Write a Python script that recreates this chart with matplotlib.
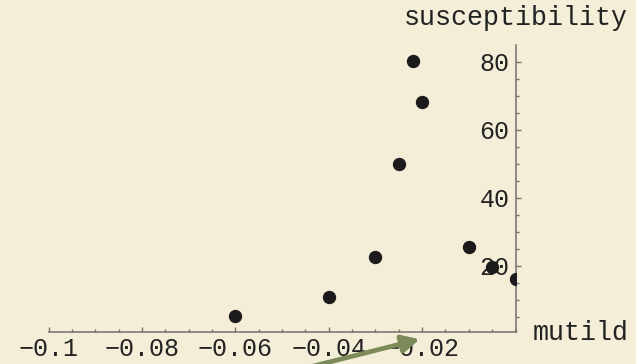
import numpy as np
import matplotlib
matplotlib.use('Agg')
import matplotlib.pyplot as plt
from matplotlib.ticker import MultipleLocator, FixedLocator

# susceptibility vs. mutild
mutild = [-0.06, -0.04, -0.03, -0.025, -0.022, -0.02, -0.01, -0.005, 0.0]
chi = [5.4, 10.9, 22.7, 50.0, 80.2, 68.3, 25.7, 19.8, 16.1]

xticks = [-0.1, -0.08, -0.06, -0.04, -0.02]
xticklabels = ['-0.1', '-0.08', '-0.06', '-0.04', '-0.02']
yticks = [20, 40, 60, 80]

bg = '#f4edd8'
axis_col = '#75716a'
arrow_col = '#7b8a58'

plt.rcParams['font.family'] = ['Liberation Mono', 'DejaVu Sans Mono']
plt.rcParams['axes.unicode_minus'] = True

fig = plt.figure(figsize=(6.36, 3.64), dpi=100, facecolor=bg)
ax = fig.add_axes([0.0763, 0.0871, 0.7343, 0.7893])
ax.set_facecolor(bg)

ax.plot(mutild, chi, 'o', color='#1c1a1a', markersize=8.6, zorder=3)

ax.set_xlim(-0.1, 0)
ax.set_ylim(0.53, 84.9)

for s in ['top', 'right']:
    ax.spines[s].set_visible(False)
ax.spines['left'].set_position(('axes', 1.0))
for s in ['left', 'bottom']:
    ax.spines[s].set_color(axis_col)
    ax.spines[s].set_linewidth(1.1)

ax.xaxis.set_major_locator(FixedLocator(xticks))
ax.set_xticklabels([t.replace('-', '\u2212') for t in xticklabels])
ax.xaxis.set_minor_locator(MultipleLocator(0.005))
ax.yaxis.set_major_locator(FixedLocator(yticks))
ax.yaxis.set_minor_locator(MultipleLocator(5))

# ticks point up on the x axis and to the right on the y axis
ax.tick_params(which='both', direction='in', color=axis_col, width=1.0,
               labelsize=18, labelcolor='#222222')
ax.tick_params(which='major', length=3.4)
ax.tick_params(which='minor', length=2.2)
ax.tick_params(axis='x', pad=3.5)
ax.tick_params(axis='y', pad=4.5)

fig.text(515.5 / 636, 1 - 18 / 364, 'susceptibility', ha='center', va='center',
         fontsize=19.2, color='#222222')
fig.text(533 / 636, 1 - 340 / 364, 'mutild', ha='left', va='baseline',
         fontsize=19.2, color='#222222')

ax.annotate('', xy=(-0.0205, -1.5), xytext=(-0.048, -11.0),
            arrowprops=dict(arrowstyle='-|>', lw=3.4, color=arrow_col,
                            mutation_scale=26, shrinkA=0, shrinkB=0),
            annotation_clip=False)

fig.savefig('out.png', dpi=100, facecolor=bg)
